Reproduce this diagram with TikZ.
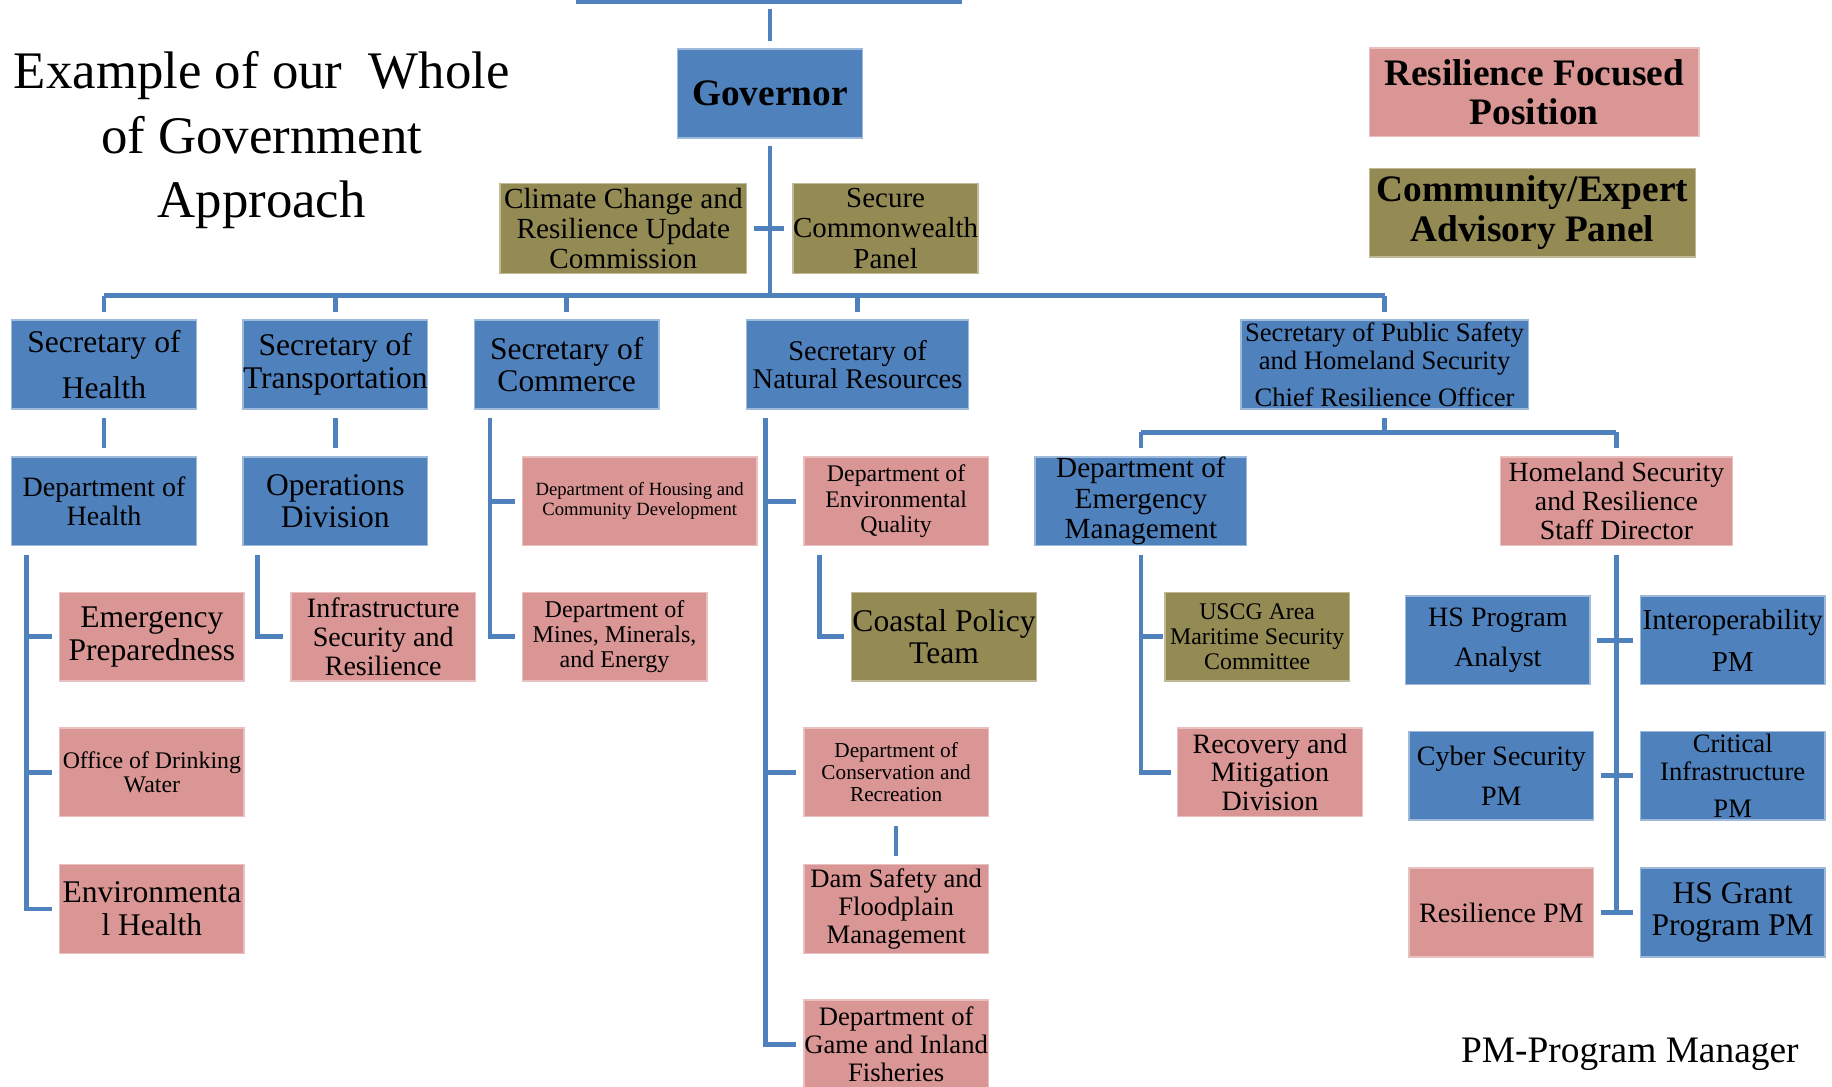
\documentclass[tikz,border=0pt]{standalone}
\usepackage{fontspec}
\setmainfont{Liberation Serif}
\newcommand\fz[2]{\fontsize{#1pt}{#2pt}\selectfont}
\definecolor{cblue}{HTML}{4F81BD}
\definecolor{cpink}{HTML}{D99694}
\definecolor{colive}{HTML}{948A54}
\begin{document}
\begin{tikzpicture}[x=0.5pt,y=-0.5pt,
  bx/.style={rectangle, inner sep=0pt, align=center, minimum width=79pt, minimum height=38pt, line width=0.6pt},
  blu/.style={bx, fill=cblue, draw=cblue!55!white},
  pnk/.style={bx, fill=cpink, draw=cpink!60!white},
  olv/.style={bx, fill=colive, draw=colive!60!white},
  ln/.style={draw=cblue, line width=2pt}]
\useasboundingbox (0,0) rectangle (1568,930);

% titles
\node[font=\fz{22.6}{27.5}, align=center] (title) at (224,120) {Example of our \ Whole\\of Government\\Approach};
\node[font=\fz{16}{16}] (pm) at (1395,902) {PM-Program Manager};

% legend
\node[pnk, minimum width=141pt, font=\bfseries\fz{16}{16.5}] (rfp) at (1313,79) {Resilience Focused\\Position};
\node[olv, minimum width=139.5pt, font=\bfseries\fz{16}{17}] (cap) at (1311.5,182) {Community/Expert\\Advisory Panel};

% top
\node[blu, font=\bfseries\fz{16}{16}] (gov) at (659,80) {Governor};
\node[olv, minimum width=105.5pt, minimum height=38.5pt, font=\fz{12.5}{13}] (cc) at (533.5,195.5) {Climate Change and\\Resilience Update\\Commission};
\node[olv, minimum height=38.5pt, font=\fz{12.4}{13}] (scp) at (758,195.5) {Secure\\Commonwealth\\Panel};

% secretaries
\node[blu, font=\fz{13.5}{19.5}] (sh) at (89,312) {Secretary of\\Health};
\node[blu, font=\fz{13.5}{14}] (st) at (287,312) {Secretary of\\Transportation};
\node[blu, font=\fz{13.5}{14}] (sc) at (485,312) {Secretary of\\Commerce};
\node[blu, minimum width=95pt, font=\fz{12.2}{12.2}] (snr) at (734,312) {Secretary of\\Natural Resources};
\node[blu, minimum width=123pt, font=\fz{11.4}{12}] (sps) at (1185,312) {Secretary of Public Safety\\and Homeland Security\\[4pt]Chief Resilience Officer};

% second row
\node[blu, font=\fz{12}{12.5}] (dh) at (89,429) {Department of\\Health};
\node[blu, font=\fz{13.5}{14}] (od) at (287,429) {Operations\\Division};
\node[pnk, minimum width=100.5pt, font=\fz{8}{8.5}] (dhcd) at (547.5,429) {Department of Housing and\\Community Development};
\node[pnk, font=\fz{10.2}{10.8}] (deq) at (767,429) {Department of\\Environmental\\Quality};
\node[blu, minimum width=90.5pt, font=\fz{12.5}{13}] (dem) at (976.5,429) {Department of\\Emergency\\Management};
\node[pnk, minimum width=99.5pt, font=\fz{11.9}{12.5}] (hsr) at (1383.5,429) {Homeland Security\\and Resilience\\Staff Director};

% health children
\node[pnk, font=\fz{13.5}{14}] (ep) at (130,545) {Emergency\\Preparedness};
\node[pnk, font=\fz{10.2}{10.5}] (odw) at (130,661) {Office of Drinking\\Water};
\node[pnk, font=\fz{13.5}{14}] (envh) at (130,778) {Environmenta\\l Health};

% transportation children
\node[pnk, font=\fz{12}{12.5}] (isr) at (328,545) {Infrastructure\\Security and\\Resilience};

% commerce children
\node[pnk, font=\fz{10.3}{10.75}] (dmme) at (526,545) {Department of\\Mines, Minerals,\\and Energy};

% natural resources children
\node[olv, font=\fz{13.5}{14}] (cpt) at (808,545) {Coastal Policy\\Team};
\node[pnk, font=\fz{9.1}{9.5}] (dcr) at (767,661) {Department of\\Conservation and\\Recreation};
\node[pnk, font=\fz{11.4}{12}] (dsf) at (767,778) {Dam Safety and\\Floodplain\\Management};
\node[pnk, font=\fz{11.4}{12}] (dgif) at (767,894) {Department of\\Game and Inland\\Fisheries};

% emergency management children
\node[olv, font=\fz{10.2}{10.75}] (uscg) at (1076,545) {USCG Area\\Maritime Security\\Committee};
\node[pnk, font=\fz{12}{12.3}] (rmd) at (1087,661) {Recovery and\\Mitigation\\Division};

% homeland children
\node[blu, font=\fz{12}{17}] (hspa) at (1282,548) {HS Program\\Analyst};
\node[blu, font=\fz{12.4}{18}] (ipm) at (1483,548) {Interoperability\\PM};
\node[blu, font=\fz{12}{17}] (cspm) at (1285,664) {Cyber Security\\PM};
\node[blu, font=\fz{11.4}{12}] (cipm) at (1483,664) {Critical\\Infrastructure\\[4pt]PM};
\node[pnk, font=\fz{12}{12}] (rpm) at (1285,781) {Resilience PM};
\node[blu, font=\fz{13.5}{14}] (hsg) at (1483,781) {HS Grant\\Program PM};

% ---------- connectors ----------
\coordinate (topL) at (493,1.5);
\coordinate (topR) at (823,1.5);
\draw[ln] (topL) -- (topR);
\draw[ln] ([yshift=3pt]gov.north) -- ++(0,-28);

\coordinate (bus) at (658,253);
\draw[ln] ([yshift=-3pt]gov.south) -- (gov.south |- bus);
\draw[ln] ([xshift=3pt]cc.east) -- ([xshift=-3.5pt]scp.west);
\draw[ln] (sh.north |- bus) -- (sps.north |- bus);
\foreach \n in {sh,st,sc,snr,sps}
  \draw[ln] (\n.north |- bus) -- ([yshift=3pt]\n.north);

\draw[ln] ([yshift=-3.5pt]sh.south) -- ([yshift=3.5pt]dh.north);
\draw[ln] ([yshift=-3.5pt]st.south) -- ([yshift=3.5pt]od.north);

% health spine
\coordinate (dhs) at ([shift={(13,7)}]dh.south west);
\draw[ln] (dhs) |- ([xshift=-3pt]envh.west);
\draw[ln] (dhs |- ep.west) -- ([xshift=-3pt]ep.west);
\draw[ln] (dhs |- odw.west) -- ([xshift=-3pt]odw.west);

% operations spine
\coordinate (ods) at ([shift={(13,7)}]od.south west);
\draw[ln] (ods) |- ([xshift=-3pt]isr.west);

% commerce spine
\coordinate (scs) at ([shift={(14,7)}]sc.south west);
\draw[ln] (scs) |- ([xshift=-3pt]dmme.west);
\draw[ln] (scs |- dhcd.west) -- ([xshift=-3pt]dhcd.west);

% natural resources spine
\coordinate (snrs) at ([shift={(17,7)}]snr.south west);
\draw[ln] (snrs) |- ([xshift=-3pt]dgif.west);
\draw[ln] (snrs |- deq.west) -- ([xshift=-3pt]deq.west);
\draw[ln] (snrs |- dcr.west) -- ([xshift=-3pt]dcr.west);

\coordinate (deqs) at ([shift={(14,7)}]deq.south west);
\draw[ln] (deqs) |- ([xshift=-3pt]cpt.west);
\draw[ln] ([yshift=-3.5pt]dcr.south) -- ([yshift=3.5pt]dsf.north);

% public safety branch
\coordinate (psbus) at (1186,370);
\draw[ln] ([yshift=-3.5pt]sps.south) -- (sps.south |- psbus);
\draw[ln] (dem.north |- psbus) -- (hsr.north |- psbus);
\draw[ln] (dem.north |- psbus) -- ([yshift=3.5pt]dem.north);
\draw[ln] (hsr.north |- psbus) -- ([yshift=3.5pt]hsr.north);

% emergency management spine
\coordinate (dems) at ([yshift=-3.5pt]dem.south);
\draw[ln] (dems) |- ([xshift=-2.5pt]rmd.west);
\draw[ln] (dems |- uscg.west) -- ([xshift=-0.5pt]uscg.west);

% homeland spine
\coordinate (hss) at ([yshift=-3.5pt]hsr.south);
\draw[ln] (hss) -- (hss |- hsg.west);
\draw[ln] ([xshift=2.5pt]hspa.east) -- ([xshift=-3pt]ipm.west);
\draw[ln] ([xshift=3pt]cspm.east) -- ([xshift=-3pt]cipm.west);
\draw[ln] ([xshift=3pt]rpm.east) -- ([xshift=-3pt]hsg.west);
\end{tikzpicture}
\end{document}
